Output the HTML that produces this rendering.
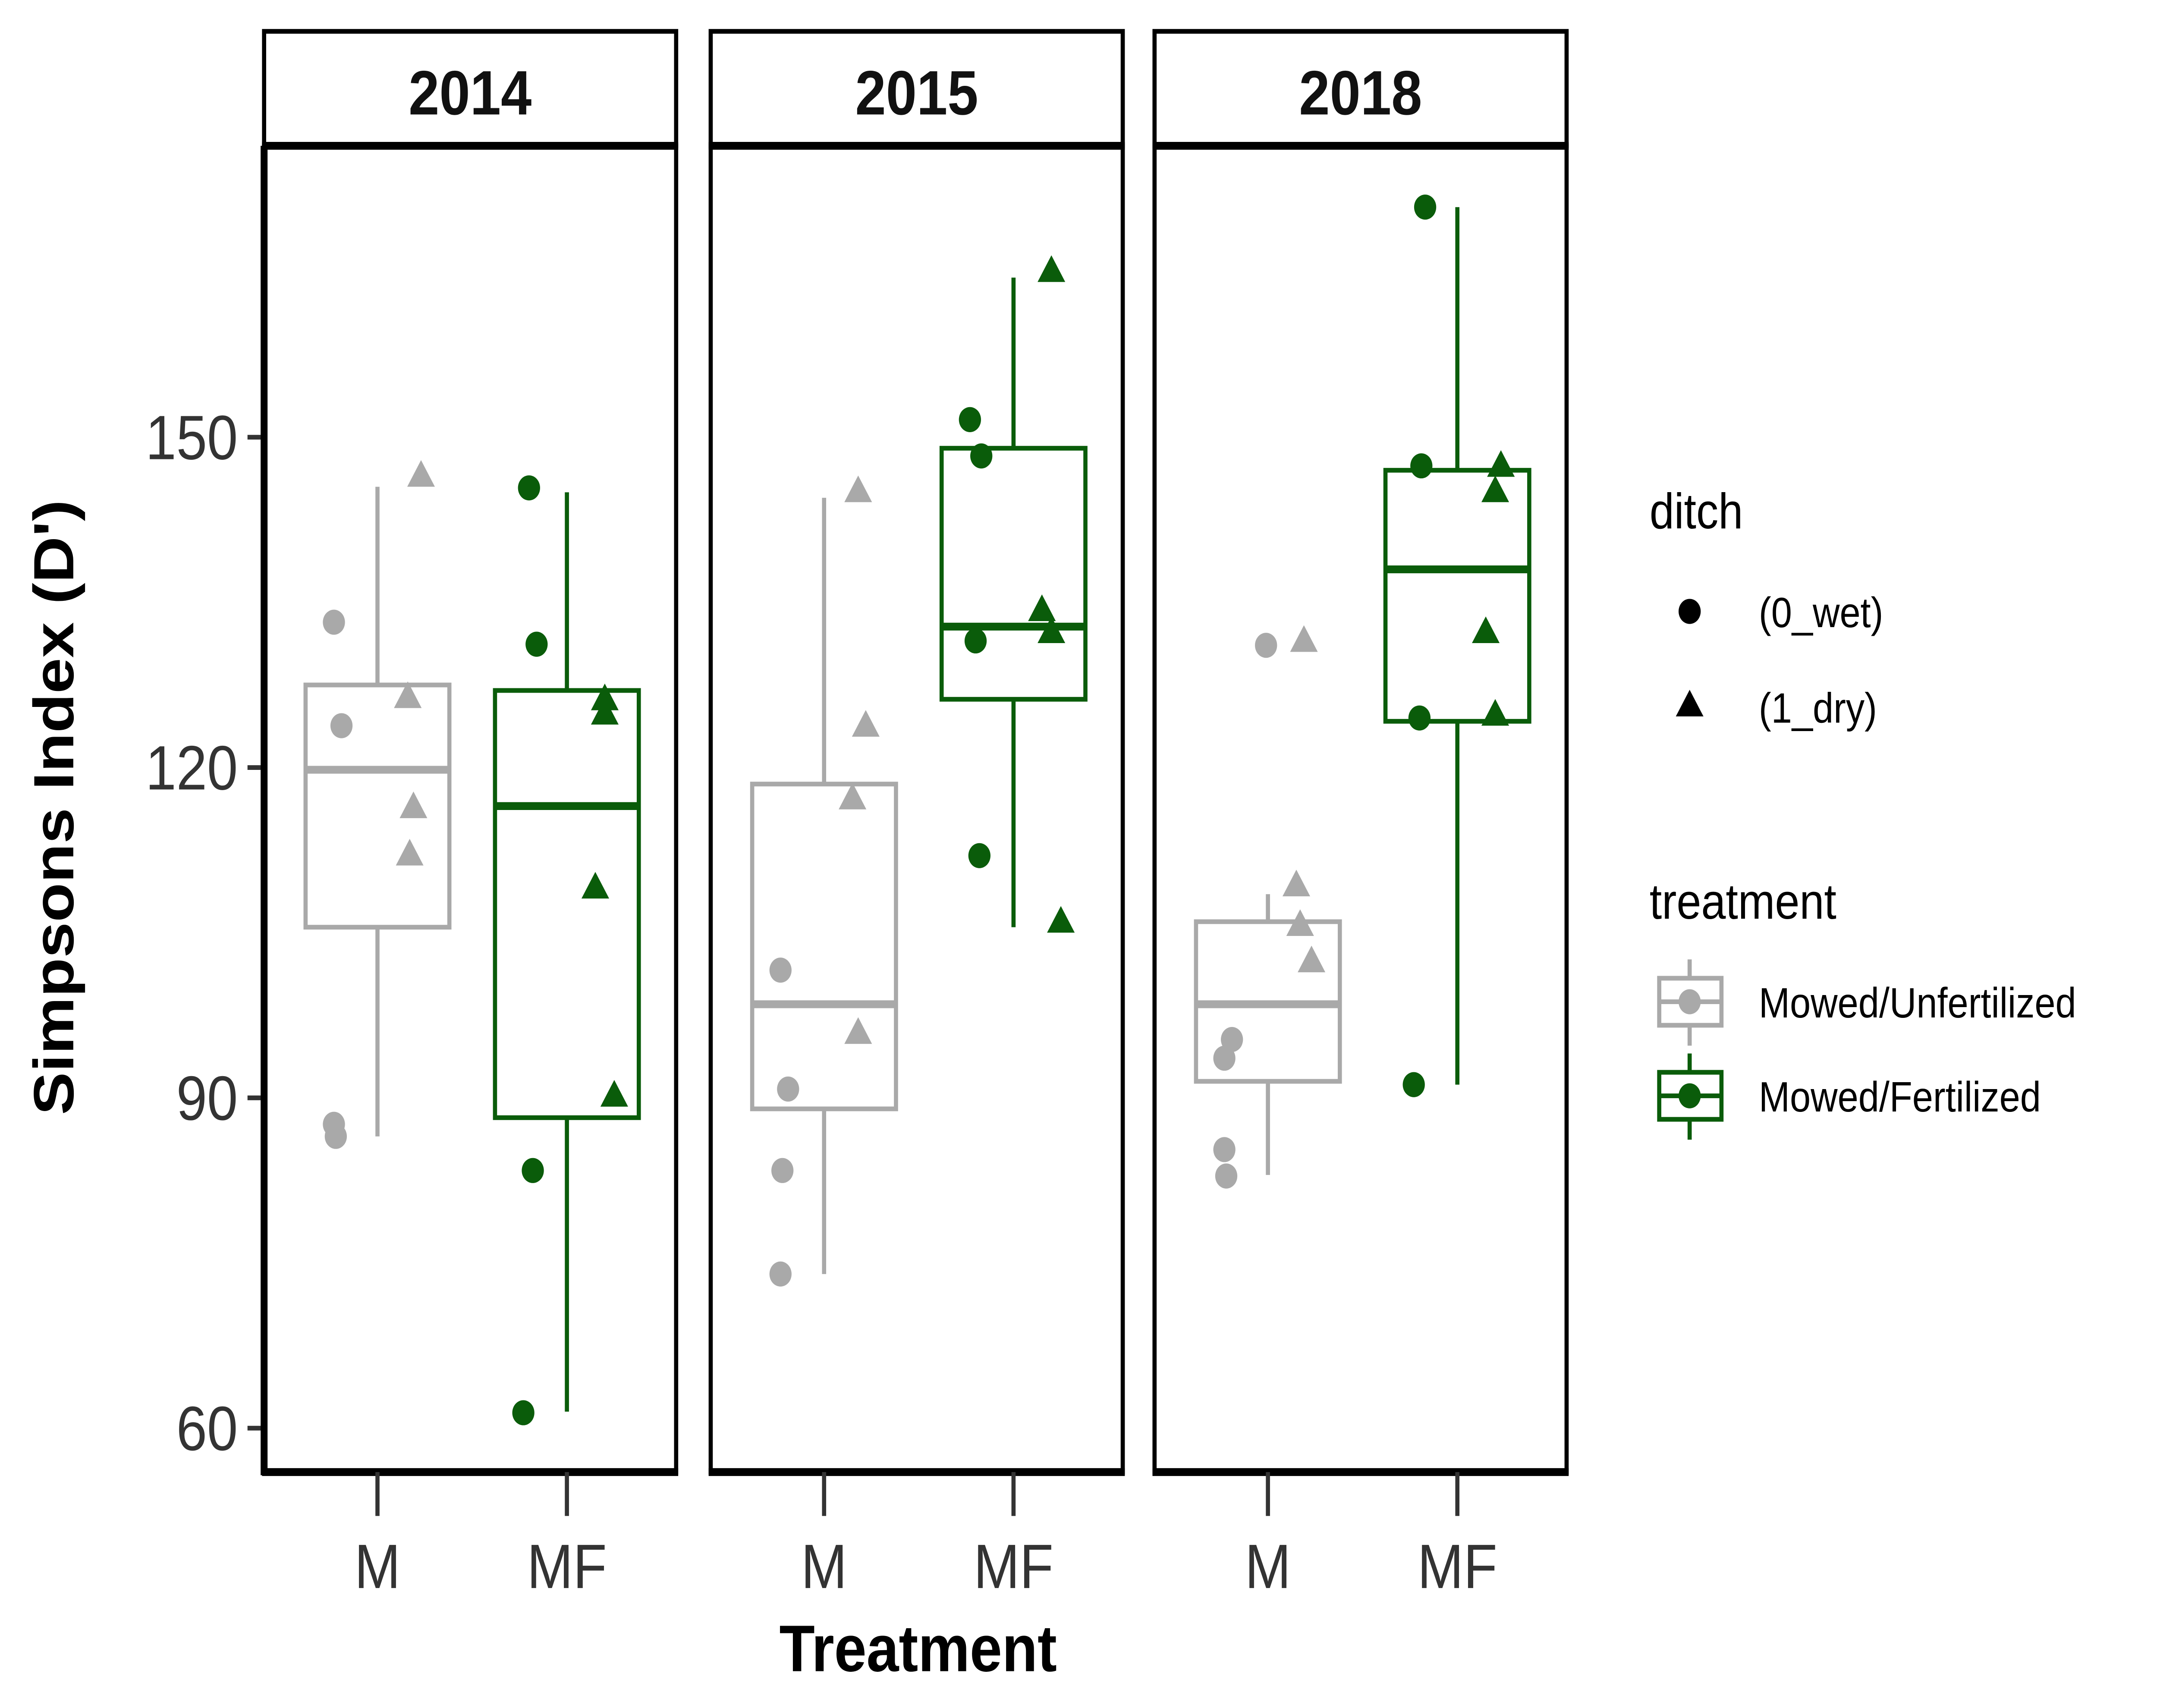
<!DOCTYPE html>
<html><head><meta charset="utf-8"><style>
html,body{margin:0;padding:0;background:#fff;width:100%;height:100%;overflow:hidden;}
svg{display:block;width:100vw;height:100vh;}
text{font-family:"Liberation Sans",Arial,sans-serif;}
</style></head><body>
<svg id="chart" viewBox="0 0 1560 1089.5" preserveAspectRatio="none" xmlns="http://www.w3.org/2000/svg">
<rect x="0" y="0" width="1560" height="1089.5" fill="#fff"/>
<g id="panels"></g>
<text transform="translate(53,515) rotate(-90)" text-anchor="middle" font-size="41" font-weight="bold" fill="#000">Simpsons Index (D')</text>
<text x="664" y="1066" text-anchor="middle" font-size="42" font-weight="bold" fill="#000">Treatment</text>
<g>
<text x="1193" y="337" font-size="32" fill="#000">ditch</text>
<circle cx="1222" cy="390" r="8" fill="#000"/>
<text x="1272" y="400" font-size="27" fill="#000">(0_wet)</text>
<polygon points="1222,440 1232,457 1212,457" fill="#000"/>
<text x="1272" y="461" font-size="27" fill="#000">(1_dry)</text>
<text x="1193" y="586" font-size="32" fill="#000">treatment</text>
<g>
<line x1="1222" y1="612" x2="1222" y2="667" stroke="#A9A9A9" stroke-width="3"/>
<rect x="1200" y="624" width="45" height="30" fill="#fff" stroke="#A9A9A9" stroke-width="3"/>
<line x1="1200" y1="639" x2="1245" y2="639" stroke="#A9A9A9" stroke-width="3"/>
<circle cx="1222" cy="639" r="8" fill="#A9A9A9"/></g>
<text x="1272" y="649" font-size="27" fill="#000">Mowed/Unfertilized</text>
<g>
<line x1="1222" y1="672" x2="1222" y2="727" stroke="#0A5C0A" stroke-width="3"/>
<rect x="1200" y="684" width="45" height="30" fill="#fff" stroke="#0A5C0A" stroke-width="3"/>
<line x1="1200" y1="699" x2="1245" y2="699" stroke="#0A5C0A" stroke-width="3"/>
<circle cx="1222" cy="699" r="8" fill="#0A5C0A"/></g>
<text x="1272" y="709" font-size="27" fill="#000">Mowed/Fertilized</text>
</g>
</svg>
<script>
const years = ["2014","2015","2018"];
const categories = ["M","MF"];
const yTicks = [60,90,120,150];
const box2014M = [86.5,105.5,119.8,127.5,145.5];
const box2014MF = [61.5,88.2,116.5,127,145];
const box2015M = [74,89,98.5,118.5,144.5];
const box2015MF = [105.5,126.2,132.8,149,164.5];
const box2018M = [83,91.5,98.5,106,108.5];
const box2018MF = [91.2,124.2,138,147,170.9];
const pts2014M = [133.2,123.8,87.6,86.5,146.5,126.4,116.4,112.1];
const pts2014MF = [145.4,131.2,83.4,61.4,126.2,124.9,109.1,90.2];
const pts2015M = [101.6,90.8,83.4,74,145.1,123.8,117.2,95.9];
const pts2015MF = [151.6,148.3,131.5,112,165.1,134.3,132.3,106];
const pts2018M = [131.1,95.3,93.6,85.3,82.9,131.5,109.3,105.7,102.4];
const pts2018MF = [170.9,147.4,124.5,91.2,147.4,145.1,132.3,124.8];
const ditch8 = [0,0,0,0,1,1,1,1];
const ditch9 = [0,0,0,0,0,1,1,1,1];
const jit2014M = [-0.23,-0.19,-0.23,-0.22,0.23,0.16,0.19,0.17];
const jit2014MF = [-0.20,-0.16,-0.18,-0.23,0.20,0.20,0.15,0.25];
const jit2015M = [-0.23,-0.19,-0.22,-0.23,0.18,0.22,0.15,0.18];
const jit2015MF = [-0.23,-0.17,-0.20,-0.18,0.20,0.15,0.20,0.25];
const jit2018M = [-0.01,-0.19,-0.23,-0.23,-0.22,0.19,0.15,0.17,0.23];
const jit2018MF = [-0.17,-0.19,-0.20,-0.23,0.23,0.20,0.15,0.20];

const boxes = {"2014":[box2014M,box2014MF],"2015":[box2015M,box2015MF],"2018":[box2018M,box2018MF]};
const pts = {"2014":[pts2014M,pts2014MF],"2015":[pts2015M,pts2015MF],"2018":[pts2018M,pts2018MF]};
const jits = {"2014":[jit2014M,jit2014MF],"2015":[jit2015M,jit2015MF],"2018":[jit2018M,jit2018MF]};
const colors = ["#A9A9A9","#0A5C0A"];
const NS="http://www.w3.org/2000/svg";
const panelX=[191,514,835], panelW=298, plotTop=93, plotBottom=939;
function yScale(v){return 911-(v-60)*(210.7/30);}
function xScale(p,i){return panelX[p]+82+i*137;}
const catUnit=137;
function mk(tag,attrs,parent){const e=document.createElementNS(NS,tag);for(const k in attrs)e.setAttribute(k,attrs[k]);parent.appendChild(e);return e;}
const root=document.getElementById('panels');
years.forEach((yr,p)=>{
  const g=mk('g',{},root);
  
  
  const x0=panelX[p];
  const strip=mk('rect',{x:x0,y:20,width:panelW,height:73,fill:'#fff',stroke:'#000','stroke-width':3},g);
  
  
  const st=mk('text',{x:x0+panelW/2,y:73,'text-anchor':'middle','font-size':40,'font-weight':'bold',fill:'#111'},g);
  st.textContent=yr;
  
  
  const fr=mk('rect',{x:x0,y:plotTop,width:panelW,height:plotBottom-plotTop,fill:'none',stroke:'#000','stroke-width':3},g);
  
  
  mk('line',{x1:x0-1.5,y1:plotTop,x2:x0+panelW+1.5,y2:plotTop,stroke:'#000','stroke-width':5},g);
  const ax=mk('line',{x1:x0-1.5,y1:plotBottom,x2:x0+panelW+1.5,y2:plotBottom,stroke:'#000','stroke-width':5},g);
  
  
  categories.forEach((c,i)=>{
    const cx=xScale(p,i), col=colors[i], b=boxes[yr][i];
    const tk=mk('line',{x1:cx,y1:plotBottom,x2:cx,y2:967,stroke:'#333','stroke-width':3},g);
    
    
    const tl=mk('text',{x:cx,y:1013,'text-anchor':'middle','font-size':40,fill:'#333'},g);
    tl.textContent=c;
    
    
    const bg=mk('g',{},g);
    
    
    mk('line',{x1:cx,y1:yScale(b[0]),x2:cx,y2:yScale(b[1]),stroke:col,'stroke-width':3},bg);
    mk('line',{x1:cx,y1:yScale(b[3]),x2:cx,y2:yScale(b[4]),stroke:col,'stroke-width':3},bg);
    mk('rect',{x:cx-52,y:yScale(b[3]),width:104,height:yScale(b[1])-yScale(b[3]),fill:'none',stroke:col,'stroke-width':3},bg);
    mk('line',{x1:cx-52,y1:yScale(b[2]),x2:cx+52,y2:yScale(b[2]),stroke:col,'stroke-width':5},bg);
    const vals=pts[yr][i], jit=jits[yr][i], dt=vals.length===9?ditch9:ditch8;
    vals.forEach((v,k)=>{
      const px=cx+jit[k]*catUnit, py=yScale(v);
      let m;
      if(dt[k]===0){m=mk('circle',{cx:px,cy:py,r:8,fill:col},g);}
      else{m=mk('polygon',{points:`${px},${py-10} ${px+10},${py+7} ${px-10},${py+7}`,fill:col},g);}
      
      
    });
  });
});
yTicks.forEach(t=>{
  const y=yScale(t);
  const l=mk('line',{x1:179,y1:y,x2:191,y2:y,stroke:'#333','stroke-width':3},root);
  
  
  const tx=mk('text',{x:172,y:y+14,'text-anchor':'end','font-size':40,fill:'#333'},root);
  tx.textContent=t;
  
  
});
const yl=mk('line',{x1:191,y1:plotTop,x2:191,y2:plotBottom+2,stroke:'#000','stroke-width':5},root);


</script>
</body></html>
